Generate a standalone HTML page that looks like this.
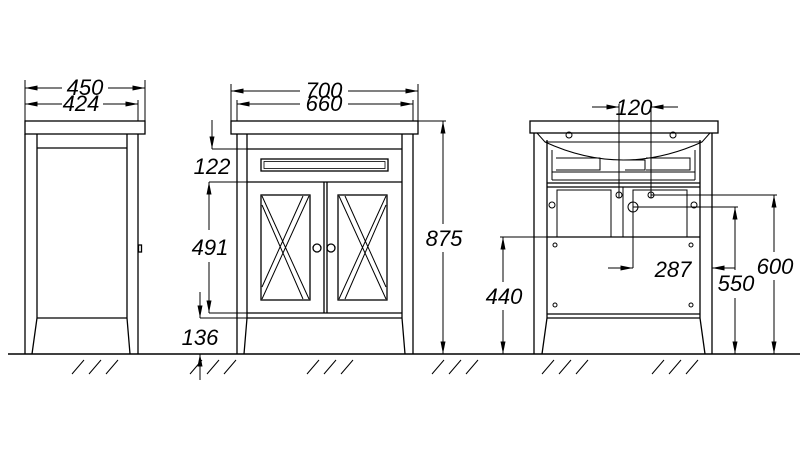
<!DOCTYPE html>
<html><head><meta charset="utf-8"><style>
html,body{margin:0;padding:0;background:#fff}
svg text{font-family:"Liberation Sans",sans-serif;font-style:italic;font-size:22px;fill:#000;text-anchor:middle}
</style></head><body>
<svg width="800" height="469" viewBox="0 0 800 469" xmlns="http://www.w3.org/2000/svg">
<defs>
<marker id="a" viewBox="0 0 10 4" refX="10" refY="2" markerWidth="14" markerHeight="5" orient="auto-start-reverse" markerUnits="userSpaceOnUse"><path d="M0,0L10,2L0,4z" fill="#000"/></marker>
</defs>
<g stroke="#000" stroke-width="1.3" fill="none">
<line x1="8" y1="354" x2="800" y2="354" stroke-width="1.6"/>
<g stroke-width="1">
<path d="M72,374l12,-14M89,374l12,-14M106,374l12,-14"/>
<path d="M190,374l12,-14M207,374l12,-14M224,374l12,-14"/>
<path d="M307,374l12,-14M324,374l12,-14M341,374l12,-14"/>
<path d="M432,374l12,-14M449,374l12,-14M466,374l12,-14"/>
<path d="M542,374l12,-14M559,374l12,-14M576,374l12,-14"/>
<path d="M652,374l12,-14M669,374l12,-14M686,374l12,-14"/>
</g>
<rect x="25" y="121" width="120" height="13"/>
<path d="M25,134V354M138,134V354M37,134V318H127V134M37,148H127M37,318L32,354M127,318L130,354"/>
<rect x="138.5" y="245" width="3" height="7"/>
<g stroke-width="1"><line x1="25" y1="80" x2="25" y2="121"/><line x1="145" y1="80" x2="145" y2="121"/><line x1="138" y1="100" x2="138" y2="121"/>
<line x1="25" y1="88" x2="62" y2="88" marker-start="url(#a)"/><line x1="108" y1="88" x2="145" y2="88" marker-end="url(#a)"/>
<line x1="25" y1="104" x2="62" y2="104" marker-start="url(#a)"/><line x1="103" y1="104" x2="138" y2="104" marker-end="url(#a)"/></g>
<rect x="231" y="121" width="187" height="13"/>
<path d="M237,134V354M413,134V354M247,134V318H402V134M247,149H402M247,182H402M247,313H402M244,354L247,318M405,354L402,318M324,182V313M327,182V313"/>
<rect x="261" y="159" width="127" height="12"/><rect x="264" y="161.5" width="121" height="7" stroke-width="0.8"/>
<rect x="261" y="195" width="49" height="105"/><rect x="338" y="195" width="49" height="105"/>
<g stroke-width="1"><path d="M262,196L309,299M262,205L303,299M309,196L262,299M303,196L262,287M339,196L386,299M345,196L386,287M386,196L339,299M386,205L345,299"/></g>
<circle cx="317" cy="248" r="4"/><circle cx="331" cy="248" r="4"/>
<g stroke-width="1"><line x1="231" y1="84" x2="231" y2="121"/><line x1="418" y1="84" x2="418" y2="121"/><line x1="237" y1="100" x2="237" y2="121"/><line x1="413" y1="100" x2="413" y2="121"/>
<line x1="231" y1="91" x2="300" y2="91" marker-start="url(#a)"/><line x1="348" y1="91" x2="418" y2="91" marker-end="url(#a)"/>
<line x1="237" y1="104" x2="300" y2="104" marker-start="url(#a)"/><line x1="348" y1="104" x2="413" y2="104" marker-end="url(#a)"/>
<line x1="212" y1="120" x2="212" y2="149" marker-end="url(#a)"/><line x1="212" y1="149" x2="247" y2="149"/>
<line x1="209" y1="182" x2="247" y2="182"/><line x1="209" y1="182" x2="209" y2="230" marker-start="url(#a)"/><line x1="209" y1="262" x2="209" y2="313" marker-end="url(#a)"/><line x1="209" y1="313" x2="247" y2="313"/>
<line x1="200" y1="292" x2="200" y2="318" marker-end="url(#a)"/><line x1="200" y1="318" x2="247" y2="318"/>
<line x1="200" y1="380" x2="200" y2="354" marker-end="url(#a)"/>
<line x1="418" y1="121" x2="446" y2="121"/><line x1="443" y1="121" x2="443" y2="224" marker-start="url(#a)"/><line x1="443" y1="252" x2="443" y2="354" marker-end="url(#a)"/></g>
<rect x="530" y="121" width="188" height="12"/>
<path d="M534,133V354M712,133V354M547,140V318H700V140M547,183H700M547,187H700M547,237H700M547,314H700M542,354L547,318M705,354L700,318"/>
<g stroke-width="1"><path d="M537,133L545,142H702L710,133M545,142Q623,178 702,142M552,150V180M695,150V180M556,158H600V170H556M646,158H690V170H646M552,172H695M552,180H695M625,160H645V170H625"/>
<rect x="557" y="190" width="54" height="47"/><rect x="633" y="190" width="54" height="47"/><line x1="623" y1="187" x2="623" y2="237"/>
<circle cx="569" cy="135" r="3"/><circle cx="673" cy="135" r="3"/>
<circle cx="555" cy="245" r="2"/><circle cx="691" cy="245" r="2"/><circle cx="555" cy="305" r="2"/><circle cx="691" cy="305" r="2"/>
<circle cx="552" cy="205" r="3"/><circle cx="694" cy="205" r="3"/><circle cx="619" cy="195" r="3"/><circle cx="651" cy="195" r="3"/>
<circle cx="633" cy="207" r="5"/>
<line x1="592" y1="107" x2="619" y2="107" marker-end="url(#a)"/><line x1="678" y1="107" x2="651" y2="107" marker-end="url(#a)"/>
<line x1="619" y1="104" x2="619" y2="198"/><line x1="651" y1="104" x2="651" y2="198"/>
<line x1="651" y1="195" x2="777" y2="195"/><line x1="774" y1="195" x2="774" y2="252" marker-start="url(#a)"/><line x1="774" y1="280" x2="774" y2="354" marker-end="url(#a)"/>
<line x1="633" y1="207" x2="738" y2="207"/><line x1="735" y1="207" x2="735" y2="270" marker-start="url(#a)"/><line x1="735" y1="298" x2="735" y2="354" marker-end="url(#a)"/>
<line x1="633" y1="193" x2="633" y2="268"/><line x1="608" y1="268" x2="633" y2="268" marker-end="url(#a)"/>
<line x1="735" y1="268" x2="712" y2="268" marker-end="url(#a)"/>
<line x1="500" y1="237" x2="547" y2="237"/><line x1="503" y1="237" x2="503" y2="282" marker-start="url(#a)"/><line x1="503" y1="310" x2="503" y2="354" marker-end="url(#a)"/></g>
</g>
<text x="85" y="95">450</text><text x="81" y="111">424</text>
<text x="324" y="98">700</text><text x="324" y="111">660</text>
<text x="212" y="174">122</text><text x="210" y="255">491</text><text x="200" y="345">136</text>
<text x="444" y="246">875</text>
<text x="634" y="115">120</text><text x="673" y="277">287</text>
<text x="775" y="274">600</text><text x="736" y="291">550</text><text x="504" y="304">440</text>
</svg>
</body></html>
